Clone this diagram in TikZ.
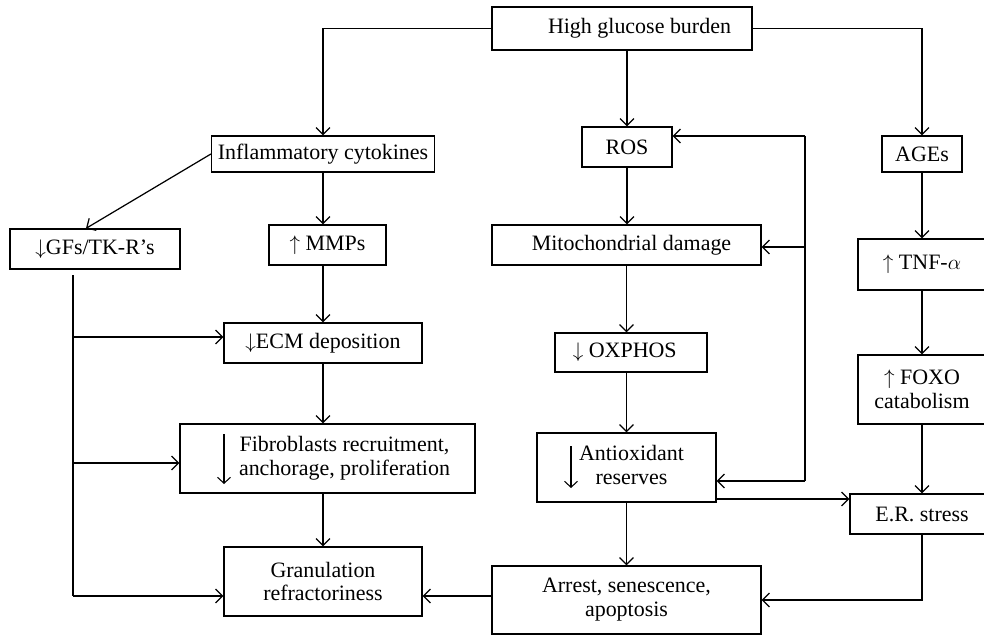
\documentclass[tikz,border=0pt]{standalone}
\usepackage{fontspec}
\setmainfont{Liberation Serif}
\usetikzlibrary{arrows.meta}
\begin{document}
\begin{tikzpicture}
[x=0.02cm, y=-0.02cm, font=\fontsize{12.5}{13.6}\selectfont, line width=0.7pt]
\tikzstyle{box}=[rectangle, draw, inner sep=0mm, align=center]
\tikzstyle{arr}=[-{Straight Barb[length=1.4mm, width=2.8mm]}]
\tikzstyle{bigarr}=[-{Straight Barb[length=1.2mm, width=2.6mm]}, line width=0.6pt]
\useasboundingbox (0,0) rectangle (984,635);

\node[box, minimum width=5.2cm,  minimum height=0.86cm]	(HG)	at (622,28.5)	{\hspace*{0.7cm}High glucose burden};
\node[box, minimum width=4.46cm, minimum height=0.72cm]	(IC)	at (323,154)	{Inflammatory cytokines};
\node[box, minimum width=1.8cm,  minimum height=0.8cm]	(ROS)	at (627,147)	{ROS};
\node[box, minimum width=1.6cm,  minimum height=0.72cm]	(AGE)	at (922,154)	{AGEs};
\node[box, minimum width=3.4cm,  minimum height=0.8cm]	(GF)	at (95,249)		{$\downarrow$GFs/TK-R's};
\node[box, minimum width=2.34cm, minimum height=0.8cm]	(MMP)	at (327.5,245)	{$\uparrow$ MMPs};
\node[box, minimum width=5.38cm, minimum height=0.8cm]	(MIT)	at (626.5,245)	{\hspace*{0.2cm}Mitochondrial damage};
\node[box, minimum width=2.56cm, minimum height=1.02cm]	(TNF)	at (922,264.5)	{$\uparrow$ TNF-$\alpha$};
\node[box, minimum width=3.96cm, minimum height=0.8cm]	(ECM)	at (323,343)	{$\downarrow$ECM deposition};
\node[box, minimum width=3.04cm, minimum height=0.78cm]	(OX)	at (631,352.5)	{$\downarrow$ OXPHOS\hspace*{0.25cm}};
\node[box, minimum width=2.56cm, minimum height=1.38cm]	(FOXO)	at (922,389.5)	{$\uparrow$ FOXO\\catabolism};
\node[box, minimum width=5.9cm,  minimum height=1.38cm]	(FIB)	at (327.5,458.5)
	{\hspace*{0.68cm}\begin{tabular}{@{}c@{}}Fibroblasts recruitment,\\anchorage, proliferation\end{tabular}};
\node[box, minimum width=3.58cm, minimum height=1.38cm]	(ANT)	at (626.5,467.5)
	{\hspace*{0.2cm}\begin{tabular}{@{}c@{}}Antioxidant\\reserves\end{tabular}};
\node[box, minimum width=2.88cm, minimum height=0.8cm]	(ER)	at (922,514)	{E.R. stress};
\node[box, minimum width=3.96cm, minimum height=1.38cm]	(GR)	at (323,581.5)	{Granulation\\refractoriness};
\node[box, minimum width=5.38cm, minimum height=1.36cm]	(ARR)	at (626.5,600)	{Arrest, senescence,\\apoptosis};

% tall arrows inside the two-line boxes
\draw[bigarr] (224,434) -- (224,484);
\draw[bigarr] (571,446) -- (571,488);

\coordinate (G0) at (73,275);
\coordinate (G1) at (73,337);
\coordinate (G2) at (73,463);
\coordinate (G3) at (73,596);
\coordinate (F0) at (805,136);
\coordinate (F1) at (805,247);
\coordinate (F2) at (805,481);
\coordinate (A0) at (716,499);
\coordinate (A1) at (492,596);

\draw[arr] (HG.west) -| (IC.north);
\draw[arr] (HG.south -| ROS.north) -- (ROS.north);
\draw[arr] (HG.east) -| (AGE.north);

\draw[arr] (IC.west) -- ([xshift=-0.18cm]GF.north);
\draw[arr] (IC.south) -- (IC.south |- MMP.north);
\draw[arr] (MMP.south -| ECM.north) -- (ECM.north);
\draw[arr] (ECM.south) -- (ECM.south |- FIB.north);
\draw[arr] (FIB.south -| GR.north) -- (GR.north);

\draw (G0) -- (G3);
\draw[arr] (G1) -- (G1 -| ECM.west);
\draw[arr] (G2) -- (G2 -| FIB.west);
\draw[arr] (G3) -- (G3 -| GR.west);

\draw[arr] (ROS.south) -- (ROS.south |- MIT.north);
\draw[arr] (MIT.south) -- (MIT.south |- OX.north);
\draw[arr] (OX.south -| ANT.north) -- (ANT.north);
\draw[arr] (ANT.south) -- (ARR.north);

\draw (F0) -- (F2);
\draw[arr] (F0) -- (F0 -| ROS.east);
\draw[arr] (F1) -- (F1 -| MIT.east);
\draw[arr] (F2) -- (F2 -| ANT.east);

\draw[arr] (AGE.south) -- (TNF.north);
\draw[arr] (TNF.south) -- (FOXO.north);
\draw[arr] (FOXO.south) -- (ER.north);

\draw[arr] (A0) -- (A0 -| ER.west);
\draw[arr] (ER.south) |- (ARR.east);
\draw[arr] (A1) -- (A1 -| GR.east);

\end{tikzpicture}
\end{document}
